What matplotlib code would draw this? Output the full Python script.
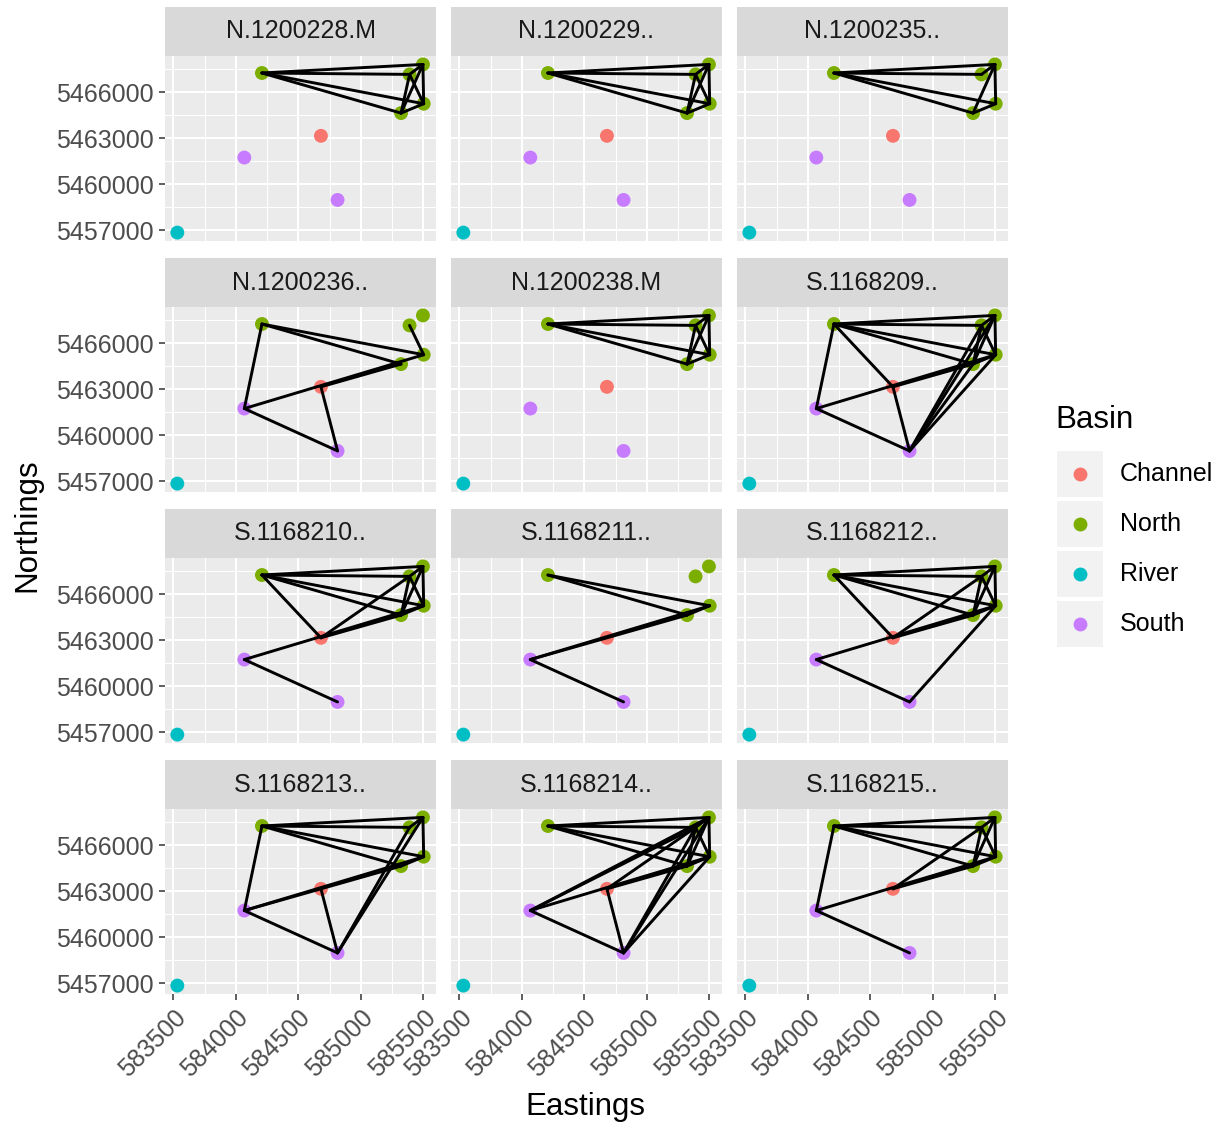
import numpy as np
import matplotlib
matplotlib.use("Agg")
import matplotlib.pyplot as plt
from matplotlib.patches import Rectangle

plt.rcParams.update({"font.family": ["Liberation Sans", "DejaVu Sans"]})

W, H = 1222, 1127

# nodes (monitoring sites)
node_ids  = ["N1", "N2", "N3", "N4", "N5", "C", "R", "S1", "S2"]
node_basin = ["North", "North", "North", "North", "North", "Channel", "River", "South", "South"]
eastings  = [584209, 585497, 585390, 585503, 585322, 584681, 583532, 584068, 584814]
northings = [5467240, 5467800, 5467150, 5465240, 5464630, 5463150, 5456850, 5461735, 5458976]

basins = ["Channel", "North", "River", "South"]
basin_colors = ["#F8766D", "#7CAE00", "#00BFC4", "#C77CFF"]

panels = ["N.1200228.M", "N.1200229..", "N.1200235..", "N.1200236..",
          "N.1200238.M", "S.1168209..", "S.1168210..", "S.1168211..",
          "S.1168212..", "S.1168213..", "S.1168214..", "S.1168215.."]

north_k5 = ["N1-N2", "N1-N3", "N1-N4", "N1-N5", "N2-N3", "N2-N4", "N2-N5",
            "N3-N4", "N3-N5", "N4-N5"]
panel_edges = [
    north_k5,
    north_k5,
    ["N1-N2", "N1-N3", "N1-N4", "N1-N5", "N2-N3", "N2-N4", "N2-N5", "N4-N5"],
    ["N1-N4", "N1-N5", "N1-S1", "N3-N4", "S1-N4", "C-N5", "C-S2", "S1-S2"],
    north_k5,
    north_k5 + ["N1-C", "N1-S1", "S1-N4", "C-N5", "S1-S2", "C-S2",
                "S2-N2", "S2-N3", "S2-N4", "S2-N5"],
    north_k5 + ["N1-C", "C-N3", "S1-N4", "C-N5", "S1-S2"],
    ["N1-N4", "N1-N5", "N4-N5", "S1-N4", "S1-N5", "S1-S2"],
    north_k5 + ["N1-C", "C-N3", "S1-N4", "C-N5", "S1-S2", "S2-N4"],
    ["N1-N2", "N1-N3", "N1-N4", "N1-N5", "N2-N4", "N2-N3", "N4-N5", "N1-S1",
     "S1-N4", "S1-N5", "C-S2", "S1-S2", "S2-N2", "S2-N3"],
    north_k5 + ["S1-N2", "S1-N3", "S1-N4", "C-N5", "C-N3", "C-S2", "S1-S2",
                "S2-N2", "S2-N3", "S2-N4"],
    north_k5 + ["N1-S1", "S1-N4", "C-N5", "C-N3", "S1-S2"],
]

x_major = [583500, 584000, 584500, 585000, 585500]
y_major = [5457000, 5460000, 5463000, 5466000]

# ggplot-style 5% expansion
ex, ny = np.array(eastings), np.array(northings)
xpad = 0.05 * (ex.max() - ex.min())
ypad = 0.05 * (ny.max() - ny.min())
xlim = (ex.min() - xpad, ex.max() + xpad)
ylim = (ny.min() - ypad, ny.max() + ypad)

pos = {n: (e, y) for n, e, y in zip(node_ids, eastings, northings)}
cols = [basin_colors[basins.index(b)] for b in node_basin]

fig = plt.figure(figsize=(W / 100, H / 100), dpi=100)
fig.patch.set_facecolor("white")

def px_axes(left, top, w, h):
    return fig.add_axes([left / W, 1 - (top + h) / H, w / W, h / H])

col_left = [165, 451, 737]
row_top = [56, 307, 558, 809]
pw, ph, sh = 271, 185, 49

for i, name in enumerate(panels):
    r, c = divmod(i, 3)
    ax = px_axes(col_left[c], row_top[r], pw, ph)
    ax.set_facecolor("#EBEBEB")
    ax.set_xticks(x_major)
    ax.set_xticks([v + 250 for v in x_major[:-1]] + [583250, 585750], minor=True)
    ax.set_yticks(y_major)
    ax.set_yticks([v + 1500 for v in y_major] + [5455500], minor=True)
    ax.set_xlim(xlim); ax.set_ylim(ylim)
    ax.grid(which="major", color="white", lw=1.5)
    ax.grid(which="minor", color="white", lw=0.75)
    ax.set_axisbelow(True)
    for s in ax.spines.values():
        s.set_visible(False)
    ax.tick_params(which="minor", length=0)
    ax.tick_params(which="major", length=4.5, width=1.1, color="#333333",
                   labelsize=18, labelcolor="#4D4D4D", pad=3.5)
    if c != 0:
        ax.tick_params(axis="y", length=0, labelleft=False)
    else:
        ax.set_yticklabels([str(v) for v in y_major])
    if r != 3:
        ax.tick_params(axis="x", length=0, labelbottom=False)
    else:
        ax.set_xticklabels([str(v) for v in x_major], rotation=45,
                           ha="right", va="top", rotation_mode="anchor")

    ax.scatter(eastings, northings, c=cols, s=100, linewidths=0, zorder=3)
    for e in panel_edges[i]:
        a, b = e.split("-")
        ax.plot([pos[a][0], pos[b][0]], [pos[a][1], pos[b][1]],
                color="black", lw=2.1, zorder=4, solid_capstyle="round")

    sax = px_axes(col_left[c], row_top[r] - sh, pw, sh)
    sax.set_facecolor("#D9D9D9")
    sax.set_xticks([]); sax.set_yticks([])
    for s in sax.spines.values():
        s.set_visible(False)
    sax.text(0.5, 0.5, name, ha="center", va="center", fontsize=18,
             color="#1A1A1A", transform=sax.transAxes)

fig.text(27 / W, 1 - 525 / H, "Northings", rotation=90, ha="center",
         va="center", fontsize=22.5)
fig.text(585 / W, 1 - 1107 / H, "Eastings", ha="center", va="center",
         fontsize=22.5)

# legend
lax = fig.add_axes([0, 0, 1, 1], zorder=5)
lax.set_xlim(0, W); lax.set_ylim(H, 0)
lax.axis("off")
lax.text(1055, 420, "Basin", ha="left", va="center", fontsize=22.5)
for k, (b, col) in enumerate(zip(basins, basin_colors)):
    yc = 474 + 50 * k
    lax.add_patch(Rectangle((1057, yc - 23), 46, 46, facecolor="#F2F2F2",
                            edgecolor="none"))
    lax.scatter([1080], [yc], s=100, c=col, linewidths=0)
    lax.text(1120, yc, b, ha="left", va="center", fontsize=18)

fig.savefig("out.png", dpi=100)
